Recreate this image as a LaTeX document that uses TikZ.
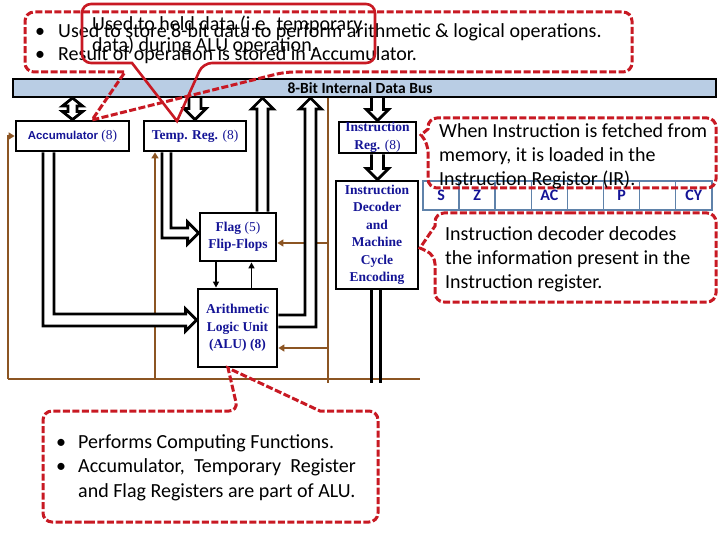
\documentclass[tikz,border=0pt]{standalone}
\usepackage{fontspec}
\setmainfont{Carlito}
\newfontfamily\serifbox{Liberation Serif}
\newfontfamily\sansbox{Liberation Sans}
\usetikzlibrary{arrows.meta,calc,backgrounds}

\definecolor{noteRed}{RGB}{200,25,35}
\definecolor{busBlue}{RGB}{185,205,228}
\definecolor{unitBlue}{RGB}{20,20,150}
\definecolor{ctrlBrown}{RGB}{140,85,35}
\definecolor{cellBlue}{RGB}{95,130,170}

\tikzset{
  unit/.style={draw, line width=2.8pt, fill=white, text=unitBlue, align=center, inner sep=0pt,
    font=\serifbox\bfseries\fontsize{13.5}{17.5}\selectfont},
  hollow/.style={draw, fill=white, line width=2.8pt, line join=miter},
  ctrl/.style={draw=ctrlBrown, line width=2.5pt},
  ctrlarrow/.style={ctrl, -{Triangle[length=6pt,width=7pt]}},
  link/.style={draw, line width=1.8pt, -{Triangle[length=6pt,width=6pt]}},
  callout/.style={draw=noteRed, line width=3pt, dash pattern=on 7pt off 2.5pt, rounded corners=9pt},
  innercallout/.style={callout, solid, line width=2.6pt},
  note/.style={anchor=north west, inner sep=0pt},
  flagcell/.style={draw=cellBlue, line width=1.5pt, fill=white, minimum width=36.1pt, minimum height=29pt,
    inner sep=0pt, text=unitBlue, font=\bfseries\fontsize{16}{16}\selectfont},
}

% vertical hollow arrow: tail, tip, half width of the shaft
\newcommand{\blockv}[3]{%
  \filldraw[hollow] let \p1=(#1), \p2=(#2), \n1={\y2-11*sign(\y2-\y1)} in
    (\x1-#3,\y1) -- (\x1-#3,\n1) -- (\x1-11,\n1) -- (\x1,\y2)
    -- (\x1+11,\n1) -- (\x1+#3,\n1) -- (\x1+#3,\y1);}

\begin{document}
\begin{tikzpicture}[x=1pt, y=-1pt]
  \useasboundingbox (0,0) rectangle (720,540);
  \begin{scope}[on background layer]
    \fill[white] (0,0) rectangle (720,540);
  \end{scope}

  % internal data bus
  \node[draw, line width=2pt, fill=busBlue, minimum width=703pt, minimum height=18pt, inner sep=0pt] (bus) at (364.5,88) {};
  \node[font=\bfseries\fontsize{15.5}{15.5}\selectfont] (buslabel) at (360,88.5) {8-Bit Internal Data Bus};

  % units
  \node[unit, minimum width=113pt, minimum height=30pt] (acc) at (72.5,136)
    {{\sansbox\fontsize{11.5}{14}\selectfont Accumulator} {\mdseries (8)}};
  \node[unit, minimum width=102pt, minimum height=30pt] (temp) at (195,136)
    {Temp. Reg. {\mdseries (8)}};
  \node[unit, minimum width=77pt, minimum height=31pt] (ir) at (377.5,137.5)
    {Instruction\\Reg. {\mdseries (8)}};
  \node[unit, minimum width=82pt, minimum height=108pt] (dec) at (377,235)
    {Instruction\\Decoder\\and\\Machine\\Cycle\\Encoding};
  \node[unit, minimum width=76pt, minimum height=48pt] (flag) at (238,237)
    {Flag {\mdseries (5)}\\Flip-Flops};
  \node[unit, minimum width=79pt, minimum height=78pt] (alu) at (237.5,328)
    {Arithmetic\\Logic Unit\\(ALU) (8)};

  \begin{scope}[on background layer]
    % control lines
    \coordinate (ctlleft) at (8,379);
    \coordinate (ctltemp) at (155,379);
    \coordinate (ctlmain) at (328,383);
    \coordinate (flagin) at ([yshift=-6pt]flag.east);
    \coordinate (aluin) at ([yshift=-20pt]alu.east);
    \draw[ctrl] (ctlleft) -- (420,379);
    \draw[ctrlarrow] (ctlleft) |- (acc.west);
    \draw[ctrlarrow] (ctltemp) -- (ctltemp |- temp.south);
    \draw[ctrl] (ctlmain |- bus.south) -- (ctlmain);
    \draw[ctrlarrow] (ctlmain |- flagin) -- (flagin);
    \draw[ctrlarrow] (ctlmain |- aluin) -- (aluin);

    % data paths
    \filldraw[hollow] let \p1=(acc.north |- bus.south), \p2=(acc.north) in
      (\x1,\y1) -- (\x1+10,\y1-8) -- (\x1+4.5,\y1-8) -- (\x2+4.5,\y2+8) -- (\x2+10,\y2+8) -- (\x2,\y2)
      -- (\x2-10,\y2+8) -- (\x2-4.5,\y2+8) -- (\x1-4.5,\y1-8) -- (\x1-10,\y1-8) -- cycle;
    \blockv{temp.north |- bus.south}{temp.north}{6}
    \blockv{ir.north |- bus.south}{ir.north}{6}
    \blockv{ir.south}{dec.north}{6}
    \coordinate (flagup) at ([xshift=24.5pt]flag.north);
    \blockv{flagup}{flagup |- bus.south}{5.5}
    \filldraw[hollow] let \p1=([xshift=-24pt]acc.south), \p2=([yshift=8pt]alu.west) in
      (\x1-5.5,\y1) |- (\x2-11,\y2-6) -- (\x2-11,\y2-11) -- (\x2,\y2) -- (\x2-11,\y2+11)
      -- (\x2-11,\y2+6) -| (\x1+5.5,\y1);
    \filldraw[hollow] let \p1=([xshift=-28.5pt]temp.south), \p2=([yshift=4pt]flag.west) in
      (\x1-4.5,\y1) |- (\x2-11,\y2-5) -- (\x2-11,\y2-11) -- (\x2,\y2) -- (\x2-11,\y2+11)
      -- (\x2-11,\y2+5) -| (\x1+4.5,\y1);
    \coordinate (aluup) at (310.5,0);
    \filldraw[hollow] let \p1=([yshift=7pt]alu.east), \p2=(aluup |- bus.south) in
      (\x1,\y1+6) -| (\x2-5.5,\y2-11) -- (\x2-11,\y2-11) -- (\x2,\y2) -- (\x2+11,\y2-11)
      -- (\x2+5.5,\y2-11) |- (\x1,\y1-6);
    \draw[line width=2.8pt] ([xshift=-5.5pt]dec.south) -- ([xshift=-5.5pt]dec.south |- ctlmain)
      ([xshift=3.5pt]dec.south) -- ([xshift=3.5pt]dec.south |- ctlmain);
  \end{scope}

  % flag <-> alu
  \draw[link] ([xshift=-22pt]flag.south) -- ([xshift=-22pt]flag.south |- alu.north);
  \draw[link] ([xshift=14pt]alu.north) -- ([xshift=14pt]alu.north |- flag.south);

  % flag register
  \foreach \lab [count=\i] in {S,Z,{},AC,{},P,{},CY}
    \node[flagcell] (f\i) at (423+18.05+36.1*\i-36.1,195.5) {\lab};

  % notes
  \draw[callout] (330,12) -- (632,12) -- (632,72) -- (285,72) [sharp corners] -- (92,120) -- (125,72)
    [rounded corners=9pt] -- (25,72) -- (25,12) -- cycle;
  \node[note, font=\fontsize{20}{23}\selectfont] (accnote) at (35,20.9)
    {\begin{tabular}{@{}l@{}l@{}}\makebox[23pt][l]{\textbullet} & Used to store 8-bit data to perform arithmetic \& logical operations.\\
      \textbullet & Result of operation is stored in Accumulator.\end{tabular}};
  \draw[innercallout] (200,4) -- (375,4) -- (375,63) -- (203,63) [sharp corners] -- (177,121) -- (132,63)
    [rounded corners=9pt] -- (82,63) -- (82,4) -- cycle;
  \node[note, font=\fontsize{20}{20}\selectfont] (tempnote) at (92,16)
    {\begin{tabular}{@{}l@{}}Used to held data (i.e. temporary\\data) during ALU operation.\end{tabular}};
  \draw[callout] (100,522) -- (43,522) -- (43,411) -- (238,411) [sharp corners] -- (228,368) -- (320,411)
    [rounded corners=9pt] -- (378,411) -- (378,522) -- cycle;
  \node[note, font=\fontsize{20}{24.5}\selectfont] (alunote) at (56,430.9)
    {\begin{tabular}{@{}l@{}l@{}}\makebox[22pt][l]{\textbullet} & Performs Computing Functions.\\
      \textbullet & Accumulator,~ Temporary~ Register\\ & and Flag Registers are part of ALU.\end{tabular}};
  \draw[callout] (560,118) -- (716,118) -- (716,188) -- (428,188) -- (428,143) [sharp corners] -- (421,135)
    -- (428,129) [rounded corners=9pt] -- (428,118) -- cycle;
  \node[note, font=\fontsize{20}{24}\selectfont] (irnote) at (439,120.2)
    {\begin{tabular}{@{}l@{}}When Instruction is fetched from\\memory, it is loaded in the\\Instruction Registor (IR).\end{tabular}};
  \draw[callout] (560,213) -- (716,213) -- (716,302) -- (435,302) -- (435,255) [sharp corners] -- (420,248)
    -- (435,226) [rounded corners=9pt] -- (435,213) -- cycle;
  \node[note, font=\fontsize{20}{24}\selectfont] (decnote) at (445,223.2)
    {\begin{tabular}{@{}l@{}}Instruction decoder decodes\\the information present in the\\Instruction register.\end{tabular}};
\end{tikzpicture}
\end{document}
